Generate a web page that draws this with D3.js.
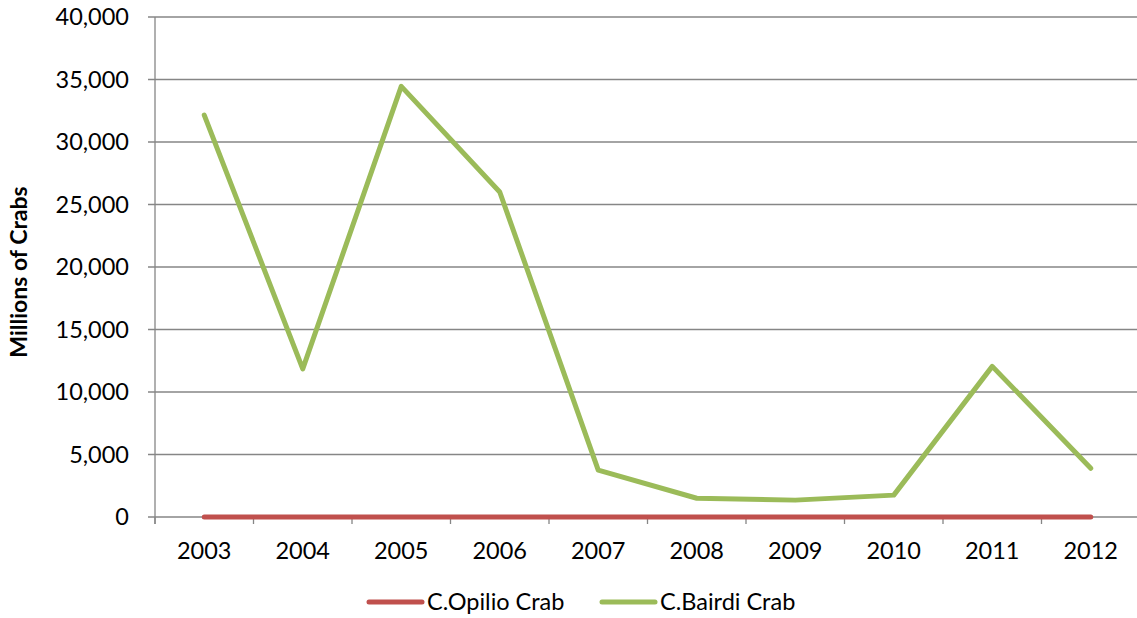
<!DOCTYPE html>
<html><head><meta charset="utf-8">
<script src="https://cdn.jsdelivr.net/npm/d3@7"></script>
<style>body{margin:0;background:#fff}svg{display:block}text{font-family:Lato,"Open Sans",sans-serif}</style>
</head><body>
<svg id="c" width="1137" height="618"></svg>
<script>
const years = ["2003","2004","2005","2006","2007","2008","2009","2010","2011","2012"];
const opilio = [0,0,0,0,0,0,0,0,0,0];
const bairdi = [32150,11850,34450,26000,3750,1500,1350,1750,12050,3900];
const yTicks = [0,5000,10000,15000,20000,25000,30000,35000,40000];
const seriesNames = ["C.Opilio Crab","C.Bairdi Crab"];
const colors = ["#C0504D","#9BBB59"];

const svg = d3.select("#c");
const x = d3.scaleBand().domain(years).range([155,1140]);
const y = d3.scaleLinear().domain([0,40000]).range([517,17]);
const fs = 23.5;

svg.append("g").selectAll("line").data(yTicks).join("line")
  .attr("x1",148).attr("x2",1140).attr("y1",d=>y(d)).attr("y2",d=>y(d))
  .attr("stroke","#868686").attr("stroke-width",1.3);
svg.append("line").attr("x1",155).attr("x2",155).attr("y1",17).attr("y2",524)
  .attr("stroke","#868686").attr("stroke-width",1.3);
const bounds = years.map(d=>x(d)).concat([x(years[years.length-1])+x.bandwidth()]);
svg.append("g").selectAll("line").data(bounds).join("line")
  .attr("x1",d=>d).attr("x2",d=>d).attr("y1",517).attr("y2",524)
  .attr("stroke","#868686").attr("stroke-width",1.3);
svg.append("g").selectAll("text").data(yTicks).join("text")
  .attr("x",129).attr("y",d=>y(d)).attr("dy","0.36em").attr("text-anchor","end")
  .attr("font-size",fs).attr("fill","#000").text(d=>d3.format(",")(d));
svg.append("g").selectAll("text").data(years).join("text")
  .attr("x",d=>x(d)+x.bandwidth()/2).attr("y",559).attr("text-anchor","middle")
  .attr("font-size",fs).attr("fill","#000").text(d=>d);
svg.append("text").attr("transform","translate(27,272) rotate(-90)")
  .attr("text-anchor","middle").attr("font-size",23).attr("font-weight","bold").text("Millions of Crabs");

const line = d3.line().x((d,i)=>x(years[i])+x.bandwidth()/2).y(d=>y(d));
[opilio,bairdi].forEach((s,k)=>{
  svg.append("path").datum(s).attr("d",line).attr("fill","none")
    .attr("stroke",colors[k]).attr("stroke-width",5).attr("stroke-linejoin","round").attr("stroke-linecap","round");
});

const lx = [369,602];
seriesNames.forEach((n,k)=>{
  svg.append("line").attr("x1",lx[k]).attr("x2",lx[k]+53).attr("y1",602).attr("y2",602)
    .attr("stroke",colors[k]).attr("stroke-width",5).attr("stroke-linecap","round");
  svg.append("text").attr("x",lx[k]+58).attr("y",602).attr("dy","0.36em")
    .attr("font-size",fs).attr("fill","#000").text(n);
});
</script>
</body></html>
